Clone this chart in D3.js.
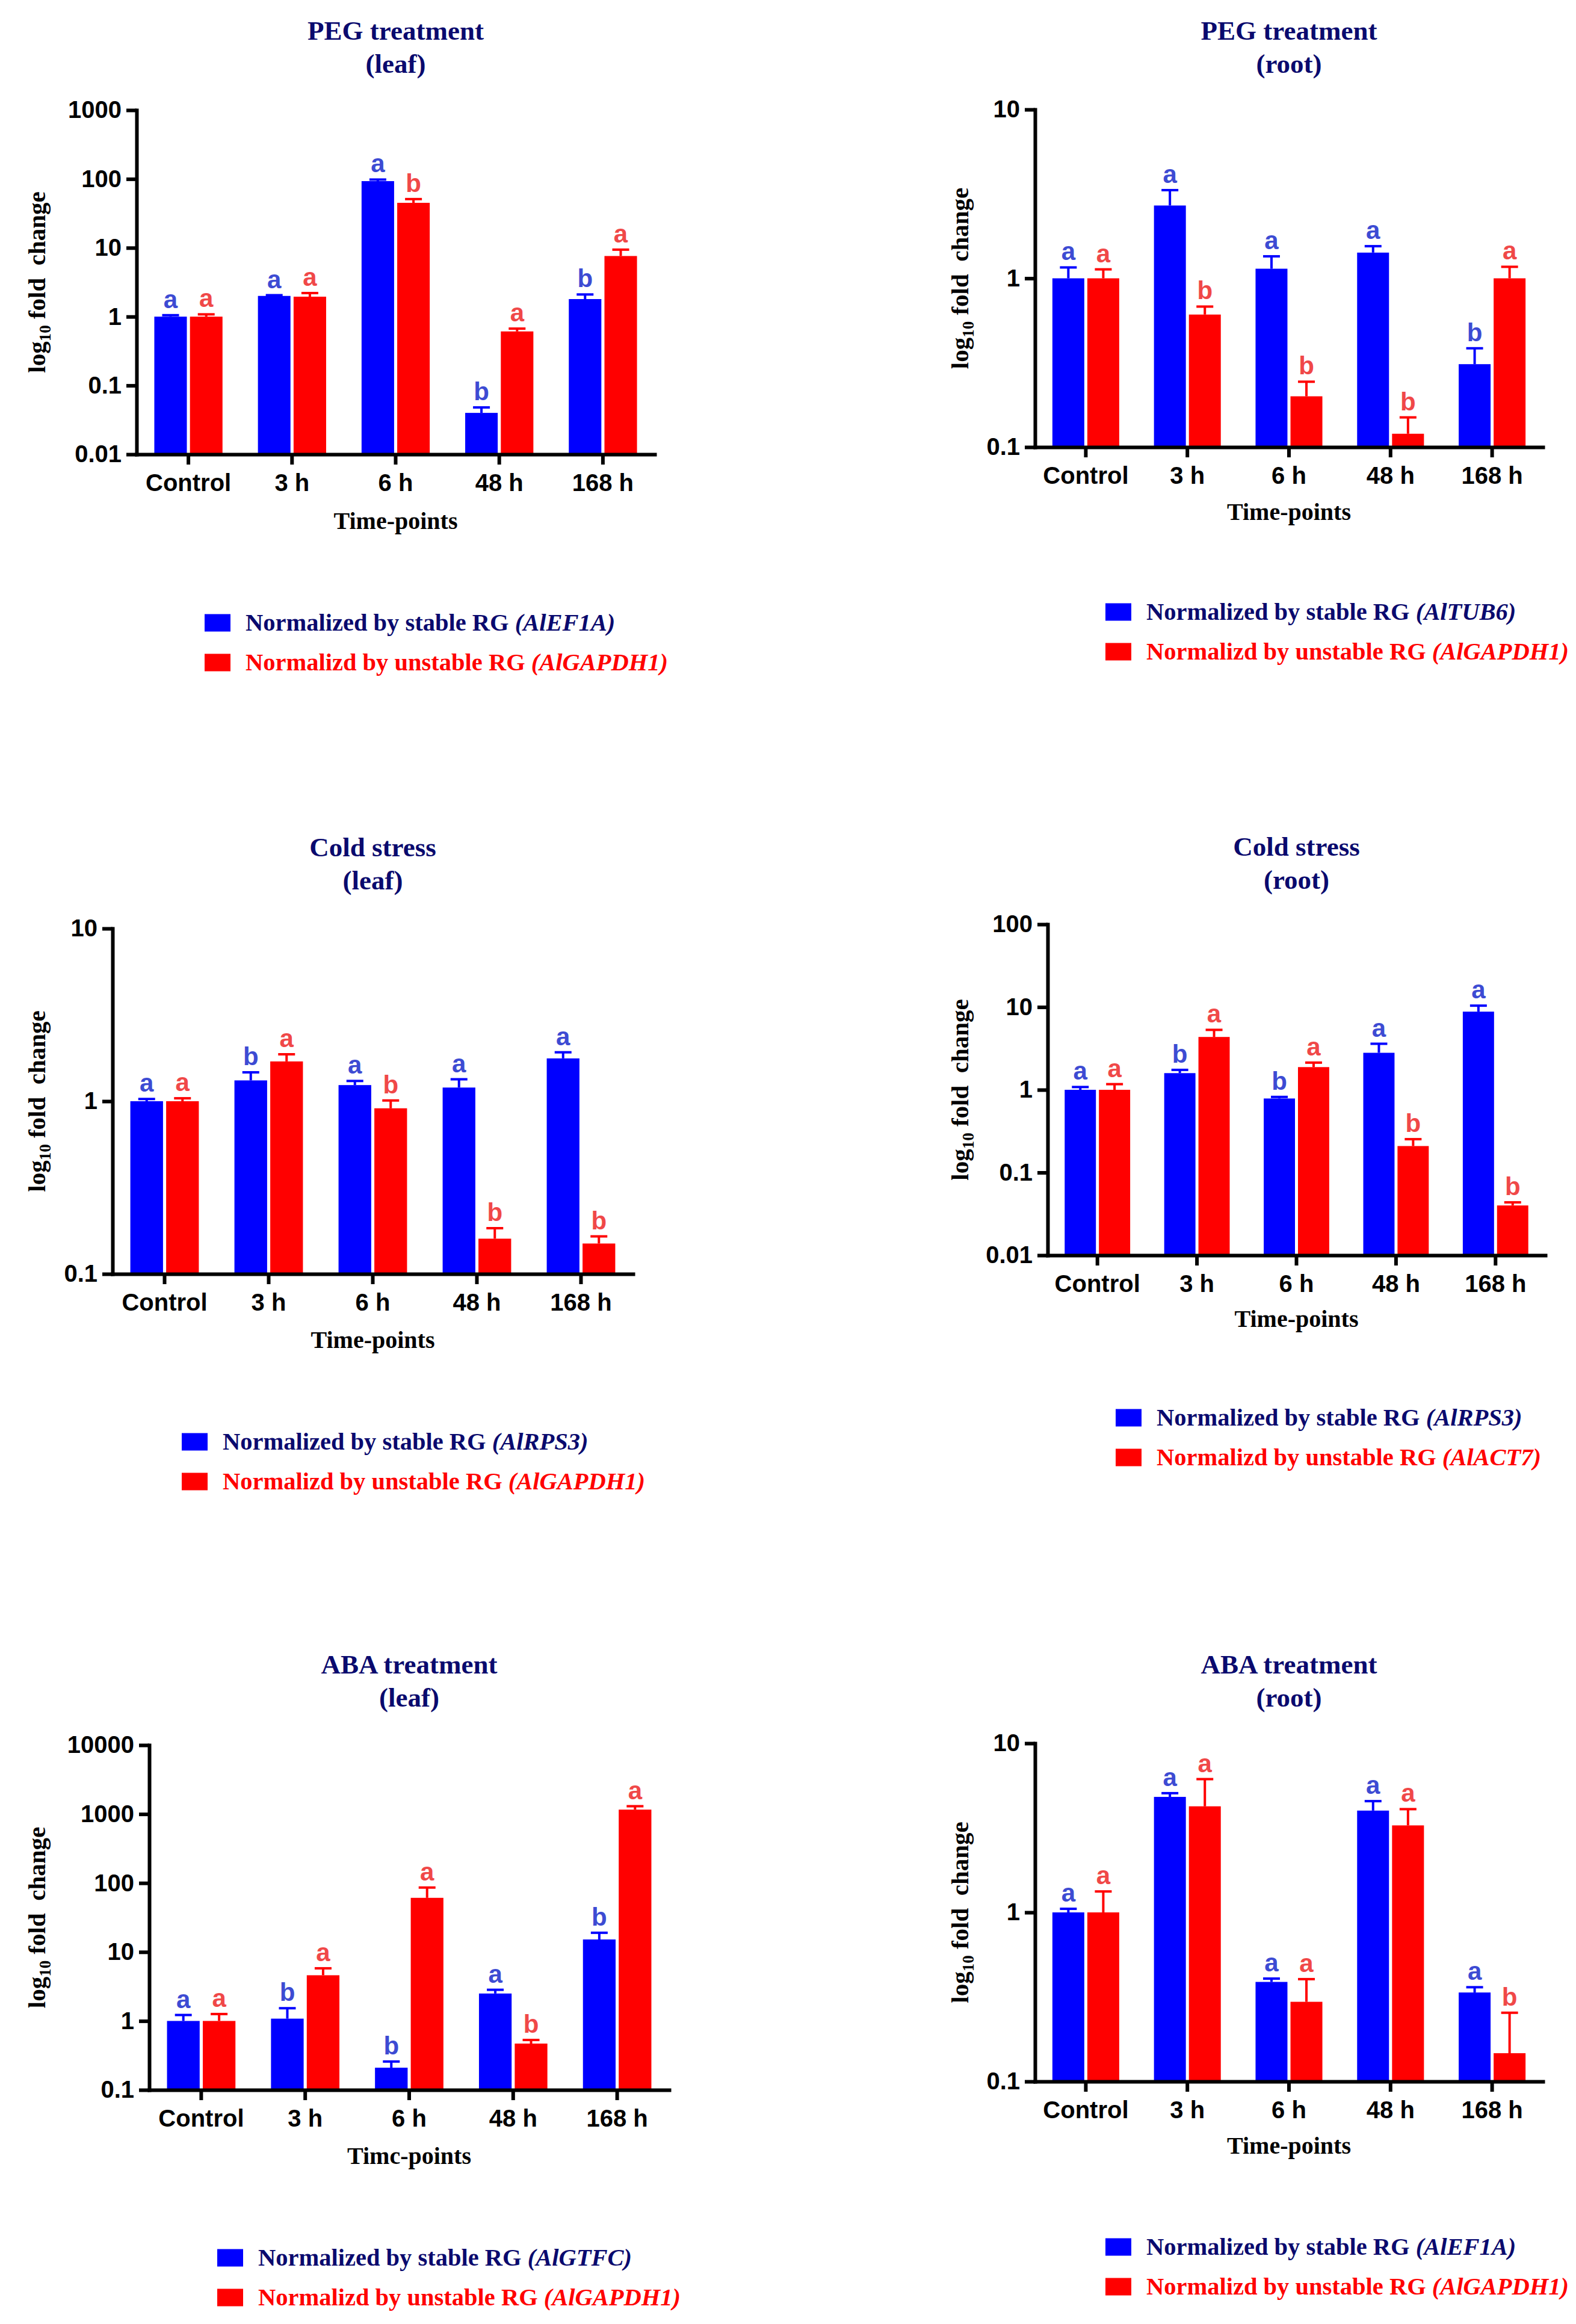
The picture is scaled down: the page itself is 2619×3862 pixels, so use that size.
<!DOCTYPE html>
<html>
<head>
<meta charset="utf-8">
<script src="https://cdn.jsdelivr.net/npm/d3@7"></script>
<style>
  body { margin: 0; background: #fff; }
  svg { display: block; }
</style>
</head>
<body>
<div id="chart"></div>
<script>
// Shared categories
const timePoints = ["Control", "3 h", "6 h", "48 h", "168 h"];

// PEG leaf
const pegLeafBlue = [1, 2.0, 93, 0.04, 1.8];
const pegLeafBlueTop = [1.05, 2.05, 98, 0.048, 2.1];
const pegLeafRed = [1, 1.95, 45, 0.61, 7.6];
const pegLeafRedTop = [1.08, 2.2, 51, 0.67, 9.4];
const pegLeafBlueLetters = ["a", "a", "a", "b", "b"];
const pegLeafRedLetters = ["a", "a", "b", "a", "a"];
const pegLeafTicks = [0.01, 0.1, 1, 10, 100, 1000];

// PEG root
const pegRootBlue = [1, 2.7, 1.14, 1.42, 0.31];
const pegRootBlueTop = [1.16, 3.33, 1.35, 1.55, 0.385];
const pegRootRed = [1, 0.61, 0.2, 0.12, 1.0];
const pegRootRedTop = [1.13, 0.68, 0.244, 0.15, 1.17];
const pegRootBlueLetters = ["a", "a", "a", "a", "b"];
const pegRootRedLetters = ["a", "b", "b", "b", "a"];
const pegRootTicks = [0.1, 1, 10];

// Cold leaf
const coldLeafBlue = [1, 1.32, 1.24, 1.2, 1.77];
const coldLeafBlueTop = [1.03, 1.47, 1.31, 1.34, 1.92];
const coldLeafRed = [1, 1.70, 0.91, 0.16, 0.15];
const coldLeafRedTop = [1.04, 1.87, 1.01, 0.184, 0.165];
const coldLeafBlueLetters = ["a", "b", "a", "a", "a"];
const coldLeafRedLetters = ["a", "a", "b", "b", "b"];
const coldLeafTicks = [0.1, 1, 10];

// Cold root
const coldRootBlue = [1, 1.59, 0.785, 2.8, 8.8];
const coldRootBlueTop = [1.08, 1.74, 0.82, 3.6, 10.4];
const coldRootRed = [1, 4.35, 1.88, 0.209, 0.04];
const coldRootRedTop = [1.17, 5.3, 2.13, 0.253, 0.0436];
const coldRootBlueLetters = ["a", "b", "b", "a", "a"];
const coldRootRedLetters = ["a", "a", "a", "b", "b"];
const coldRootTicks = [0.01, 0.1, 1, 10, 100];

// ABA leaf
const abaLeafBlue = [1, 1.08, 0.21, 2.5, 15.2];
const abaLeafBlueTop = [1.22, 1.53, 0.258, 2.83, 19];
const abaLeafRed = [1, 4.6, 61, 0.47, 1160];
const abaLeafRedTop = [1.26, 5.8, 86, 0.53, 1300];
const abaLeafBlueLetters = ["a", "b", "b", "a", "b"];
const abaLeafRedLetters = ["a", "a", "a", "b", "a"];
const abaLeafTicks = [0.1, 1, 10, 100, 1000, 10000];

// ABA root
const abaRootBlue = [1, 4.82, 0.388, 4.0, 0.336];
const abaRootBlueTop = [1.05, 5.07, 0.406, 4.55, 0.361];
const abaRootRed = [1, 4.24, 0.296, 3.27, 0.147];
const abaRootRedTop = [1.33, 6.14, 0.403, 4.08, 0.255];
const abaRootBlueLetters = ["a", "a", "a", "a", "a"];
const abaRootRedLetters = ["a", "a", "a", "a", "b"];
const abaRootTicks = [0.1, 1, 10];

const BLUE = "#0000ff", RED = "#ff0000";
const BLUE_TXT = "#3d4bd3", RED_TXT = "#f04848";
const NAVY = "#0a0a6e";
const SERIF = "'Liberation Serif', 'Times New Roman', serif";
const SANS = "'Liberation Sans', Arial, sans-serif";

const W = 2619, H = 3862;

// Panel layout (positions only)
const panels = [
  {title: ["PEG treatment", "(leaf)"], blue: pegLeafBlue, blueTop: pegLeafBlueTop, red: pegLeafRed, redTop: pegLeafRedTop,
   bl: pegLeafBlueLetters, rl: pegLeafRedLetters, ticks: pegLeafTicks,
   x0: 227, x1: 1088, y0: 183, y1: 755, titleY: 51, timeY: 866, ylabX: 62,
   legend: {x: 340, y: 1035, stable: "AlEF1A", unstable: "AlGAPDH1"}},
  {title: ["PEG treatment", "(root)"], blue: pegRootBlue, blueTop: pegRootBlueTop, red: pegRootRed, redTop: pegRootRedTop,
   bl: pegRootBlueLetters, rl: pegRootRedLetters, ticks: pegRootTicks,
   x0: 1720, x1: 2564, y0: 182, y1: 743, titleY: 51, timeY: 851, ylabX: 1596,
   legend: {x: 1837, y: 1017, stable: "AlTUB6", unstable: "AlGAPDH1"}},
  {title: ["Cold stress", "(leaf)"], blue: coldLeafBlue, blueTop: coldLeafBlueTop, red: coldLeafRed, redTop: coldLeafRedTop,
   bl: coldLeafBlueLetters, rl: coldLeafRedLetters, ticks: coldLeafTicks,
   x0: 187, x1: 1052, y0: 1543, y1: 2117, titleY: 1408, timeY: 2227, ylabX: 62,
   legend: {x: 302, y: 2396, stable: "AlRPS3", unstable: "AlGAPDH1"}},
  {title: ["Cold stress", "(root)"], blue: coldRootBlue, blueTop: coldRootBlueTop, red: coldRootRed, redTop: coldRootRedTop,
   bl: coldRootBlueLetters, rl: coldRootRedLetters, ticks: coldRootTicks,
   x0: 1741, x1: 2568, y0: 1536, y1: 2086, titleY: 1407, timeY: 2192, ylabX: 1596,
   legend: {x: 1854, y: 2356, stable: "AlRPS3", unstable: "AlACT7"}},
  {title: ["ABA treatment", "(leaf)"], blue: abaLeafBlue, blueTop: abaLeafBlueTop, red: abaLeafRed, redTop: abaLeafRedTop,
   bl: abaLeafBlueLetters, rl: abaLeafRedLetters, ticks: abaLeafTicks,
   x0: 248, x1: 1112, y0: 2900, y1: 3473, titleY: 2766, timeY: 3583, ylabX: 62, timeLabel: "Timc-points",
   legend: {x: 361, y: 3752, stable: "AlGTFC", unstable: "AlGAPDH1"}},
  {title: ["ABA treatment", "(root)"], blue: abaRootBlue, blueTop: abaRootBlueTop, red: abaRootRed, redTop: abaRootRedTop,
   bl: abaRootBlueLetters, rl: abaRootRedLetters, ticks: abaRootTicks,
   x0: 1720, x1: 2564, y0: 2897, y1: 3459, titleY: 2766, timeY: 3566, ylabX: 1596,
   legend: {x: 1837, y: 3734, stable: "AlEF1A", unstable: "AlGAPDH1"}}
];

const svg = d3.select("#chart").append("svg")
  .attr("width", W).attr("height", H)
  .attr("viewBox", `0 0 ${W} ${H}`);

svg.append("rect").attr("width", W).attr("height", H).attr("fill", "#fff");

panels.forEach(function(p) {
  const g = svg.append("g");
  const x = d3.scaleBand().domain(timePoints).range([p.x0, p.x1]).padding(0);
  const y = d3.scaleLog()
    .domain([p.ticks[0], p.ticks[p.ticks.length - 1]])
    .range([p.y1, p.y0]);
  const step = x.bandwidth();
  const bw = step * 0.314;
  const gap = step * 0.015;
  const cx = d => x(d) + step / 2;

  // Bars + error bars + letters
  const series = [
    {vals: p.blue, tops: p.blueTop, letters: p.bl, color: BLUE, txt: BLUE_TXT, off: -gap - bw},
    {vals: p.red, tops: p.redTop, letters: p.rl, color: RED, txt: RED_TXT, off: gap}
  ];
  series.forEach(function(s) {
    const rows = timePoints.map((t, i) => ({t: t, v: s.vals[i], top: s.tops[i], l: s.letters[i]}));
    const sg = g.append("g");
    sg.selectAll("rect").data(rows).enter().append("rect")
      .attr("x", d => cx(d.t) + s.off)
      .attr("y", d => y(d.v))
      .attr("width", bw)
      .attr("height", d => p.y1 - y(d.v))
      .attr("fill", s.color);
    sg.selectAll("line.err").data(rows).enter().append("line")
      .attr("class", "err")
      .attr("x1", d => cx(d.t) + s.off + bw / 2)
      .attr("x2", d => cx(d.t) + s.off + bw / 2)
      .attr("y1", d => y(d.v))
      .attr("y2", d => y(d.top))
      .attr("stroke", s.color).attr("stroke-width", 4);
    sg.selectAll("line.cap").data(rows).enter().append("line")
      .attr("class", "cap")
      .attr("x1", d => cx(d.t) + s.off + bw / 2 - 14)
      .attr("x2", d => cx(d.t) + s.off + bw / 2 + 14)
      .attr("y1", d => y(d.top))
      .attr("y2", d => y(d.top))
      .attr("stroke", s.color).attr("stroke-width", 4);
    sg.selectAll("text").data(rows).enter().append("text")
      .attr("x", d => cx(d.t) + s.off + bw / 2)
      .attr("y", d => y(d.top) - 12)
      .attr("text-anchor", "middle")
      .style("font-family", SANS).style("font-weight", "bold").style("font-size", "42px")
      .attr("fill", s.txt)
      .text(d => d.l);
  });

  // Axes
  const yAxis = g.append("g")
    .attr("transform", `translate(${p.x0},0)`)
    .call(d3.axisLeft(y).tickValues(p.ticks).tickFormat(d => String(d))
      .tickSize(17).tickSizeOuter(0).tickPadding(8));
  const xAxis = g.append("g")
    .attr("transform", `translate(0,${p.y1})`)
    .call(d3.axisBottom(x).tickSize(17).tickSizeOuter(0).tickPadding(16));
  [yAxis, xAxis].forEach(function(a) {
    a.select(".domain").attr("stroke", "#000").attr("stroke-width", 6).attr("stroke-linecap", "square");
    a.selectAll(".tick line").attr("stroke", "#000").attr("stroke-width", 6);
    a.selectAll(".tick text")
      .attr("fill", "#000")
      .style("font-family", SANS).style("font-weight", "bold").style("font-size", "40px");
  });

  // Title
  const mid = (p.x0 + p.x1) / 2;
  p.title.forEach(function(t, i) {
    g.append("text")
      .attr("x", mid).attr("y", p.titleY + i * 55 + 15)
      .attr("text-anchor", "middle")
      .style("font-family", SERIF).style("font-weight", "bold").style("font-size", "45px")
      .attr("fill", NAVY)
      .text(t);
  });

  // X title
  g.append("text")
    .attr("x", mid).attr("y", p.timeY + 13)
    .attr("text-anchor", "middle")
    .style("font-family", SERIF).style("font-weight", "bold").style("font-size", "40px")
    .attr("fill", "#000")
    .text(p.timeLabel || "Time-points");

  // Y title
  const yl = g.append("text")
    .attr("transform", `translate(${p.ylabX + 13},${(p.y0 + p.y1) / 2}) rotate(-90)`)
    .attr("text-anchor", "middle")
    .style("font-family", SERIF).style("font-weight", "bold").style("font-size", "41px")
    .attr("fill", "#000")
    .attr("xml:space", "preserve");
  yl.append("tspan").text("log");
  yl.append("tspan").attr("dy", 9).style("font-size", "27px").text("10");
  yl.append("tspan").attr("dy", -9).text(" fold\u00a0 change");

  // Legend
  const L = p.legend;
  const items = [
    {label: "Normalized by stable RG ", gene: L.stable, color: BLUE, txt: NAVY},
    {label: "Normalizd by unstable RG ", gene: L.unstable, color: RED, txt: RED}
  ];
  items.forEach(function(it, i) {
    const ly = L.y + i * 66;
    g.append("rect")
      .attr("x", L.x).attr("y", ly - 14.5)
      .attr("width", 43).attr("height", 29)
      .attr("fill", it.color);
    const t = g.append("text")
      .attr("x", L.x + 68).attr("y", ly + 13)
      .style("font-family", SERIF).style("font-weight", "bold").style("font-size", "40.5px")
      .attr("fill", it.txt);
    t.append("tspan").text(it.label);
    t.append("tspan").style("font-style", "italic").text("(" + it.gene + ")");
  });
});
</script>
</body>
</html>
